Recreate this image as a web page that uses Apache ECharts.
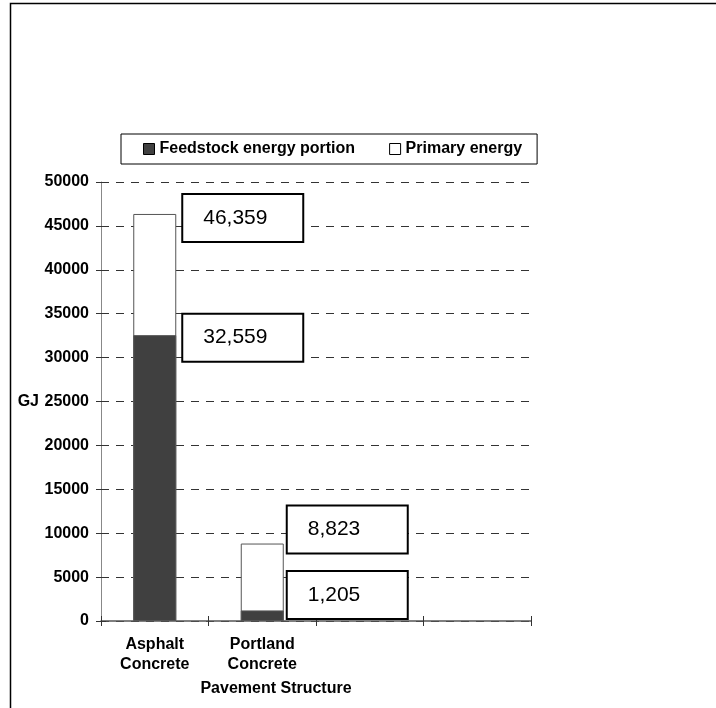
<!DOCTYPE html>
<html>
<head>
<meta charset="utf-8">
<title>Pavement Structure energy</title>
<script src="https://cdn.jsdelivr.net/npm/echarts@6/dist/echarts.min.js"></script>
<style>
  html, body { margin: 0; padding: 0; background: #fff; }
  #chart { width: 716px; height: 708px; }
</style>
</head>
<body>
<div id="chart"></div>
<script>
// Categories along the pavement-structure axis (two empty slots on the right)
const categories = ['Asphalt\nConcrete', 'Portland\nConcrete', '', ''];
// Feedstock energy portion, GJ
const feedstock = [32559, 1205];
// Total primary energy, GJ
const primary = [46359, 8823];
// Value axis range and step
const yMin = 0, yMax = 50000, yStep = 5000;

// Where each value box sits: left edge and vertical centre, relative to the bar's top-left corner
const feedLabelAt = [[50, 2.5], [47, -15.5]];
const primLabelAt = [[50, 4], [47, -14]];

const FONT = '"Liberation Sans", Arial, Helvetica, sans-serif';
const DARK = '#404040';

const valueBox = {
  show: true,
  color: '#000',
  fontFamily: FONT,
  fontSize: 21,
  backgroundColor: '#fff',
  borderColor: '#000',
  borderWidth: 2,
  width: 99,
  height: 46,
  lineHeight: 46,
  padding: [0, 0, 0, 20],
  align: 'left',
  verticalAlign: 'middle',
  formatter: p => Number(p.value).toLocaleString('en-US')
};

const chart = echarts.init(document.getElementById('chart'), null, { renderer: 'canvas' });

chart.setOption({
  animation: false,
  backgroundColor: '#fff',
  grid: { left: 101, right: 185, top: 182, bottom: 87 },
  legend: {
    left: 121,
    top: 134,
    padding: [7, 15, 7, 22],
    itemWidth: 11,
    itemHeight: 11,
    itemGap: 34,
    icon: 'rect',
    borderColor: '#000',
    borderWidth: 1,
    textStyle: { fontFamily: FONT, fontWeight: 'bold', fontSize: 16, color: '#000' },
    data: [
      { name: 'Feedstock energy portion', itemStyle: { color: DARK, borderColor: '#000', borderWidth: 1 } },
      { name: 'Primary energy', itemStyle: { color: '#fff', borderColor: '#000', borderWidth: 1 } }
    ]
  },
  xAxis: [
    {
      type: 'category',
      data: categories,
      position: 'bottom',
      axisLine: { lineStyle: { color: '#555', width: 1.5 } },
      axisTick: { show: true, inside: false, length: 5, lineStyle: { color: '#333' } },
      axisLabel: {
        margin: 14,
        fontFamily: FONT, fontWeight: 'bold', fontSize: 16, color: '#000', lineHeight: 20
      }
    },
    {
      type: 'category',
      data: categories,
      position: 'bottom',
      axisLine: { show: false },
      axisTick: { show: true, inside: true, length: 5, lineStyle: { color: '#333' } },
      axisLabel: { show: false }
    }
  ],
  yAxis: [
    {
      type: 'value',
      min: yMin, max: yMax, interval: yStep,
      position: 'left',
      axisLine: { show: true, lineStyle: { color: '#888', width: 1 } },
      axisTick: { show: true, inside: false, length: 5, lineStyle: { color: '#333' } },
      axisLabel: {
        margin: 12, fontFamily: FONT, fontWeight: 'bold', fontSize: 16, color: '#000',
        formatter: v => String(v)
      },
      splitLine: { show: true, lineStyle: { color: '#333', width: 1, type: [8, 7] } }
    },
    {
      type: 'value',
      min: yMin, max: yMax, interval: yStep,
      position: 'left',
      axisLine: { show: false },
      axisTick: { show: true, inside: true, length: 5, lineStyle: { color: '#333' } },
      axisLabel: { show: false },
      splitLine: { show: false }
    }
  ],
  series: [
    {
      name: 'Primary energy',
      type: 'bar',
      barWidth: '40%',
      barGap: '-100%',
      itemStyle: { color: '#fff', borderColor: '#555', borderWidth: 1 },
      data: primary.map((v, i) => ({
        value: v,
        label: Object.assign({}, valueBox, { position: primLabelAt[i] })
      })),
      z: 2
    },
    {
      name: 'Feedstock energy portion',
      type: 'bar',
      barWidth: '40%',
      barGap: '-100%',
      itemStyle: { color: DARK, borderColor: '#555', borderWidth: 1 },
      data: feedstock.map((v, i) => ({
        value: v,
        label: Object.assign({}, valueBox, { position: feedLabelAt[i] })
      })),
      z: 3
    }
  ],
  graphic: [
    {
      type: 'rect',
      shape: { x: 10.5, y: 3.5, width: 720, height: 720 },
      style: { fill: 'none', stroke: '#000', lineWidth: 1.5 },
      silent: true
    },
    {
      type: 'text',
      x: 39, y: 402,
      style: {
        text: 'GJ', font: 'bold 16px ' + FONT, fill: '#000',
        align: 'right', verticalAlign: 'middle'
      }
    },
    {
      type: 'text',
      x: 276, y: 689,
      style: {
        text: 'Pavement Structure', font: 'bold 16px ' + FONT, fill: '#000',
        align: 'center', verticalAlign: 'middle'
      }
    }
  ]
});
</script>
</body>
</html>
